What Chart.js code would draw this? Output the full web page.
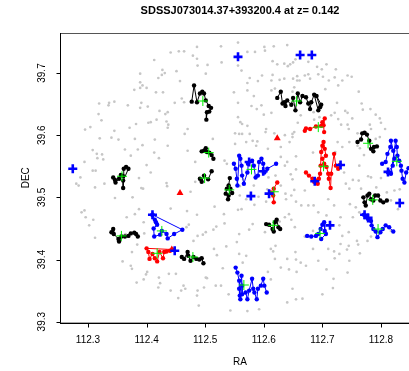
<!DOCTYPE html>
<html lang="en">
<head>
<meta charset="UTF-8">
<title>SDSSJ073014.37+393200.4</title>
<script src="https://cdn.jsdelivr.net/npm/chart.js@4.4.1/dist/chart.umd.min.js"></script>
<style>
  html, body { margin: 0; padding: 0; background: #fff; overflow: hidden; }
  #wrap { width: 430px; height: 371px; }
</style>
</head>
<body>
<div id="wrap"><canvas id="chart" width="430" height="371"></canvas></div>
<script>
const titleText = 'SDSSJ073014.37+393200.4 at z= 0.142';
const xTicks = [112.3, 112.4, 112.5, 112.6, 112.7, 112.8];
const yTicks = [39.3, 39.4, 39.5, 39.6, 39.7];

// field galaxies
const grayRa = [112.486,112.527,112.441,112.455,112.464,112.479,112.486,112.487,112.504,112.528,112.413,112.389,112.427,112.431,112.426,112.451,112.501,112.457,112.420,112.389,
  112.393,112.400,112.379,112.389,112.416,112.428,112.460,112.464,112.448,112.336,112.345,112.319,112.335,112.368,112.391,112.389,112.402,112.422,112.436,112.432,
  112.318,112.323,112.382,112.403,112.407,112.417,112.434,112.437,112.295,112.304,112.345,112.371,112.436,112.465,112.470,112.320,112.340,112.352,112.380,112.414,
  112.393,112.436,112.513,112.308,112.315,112.324,112.316,112.326,112.363,112.385,112.413,112.470,112.373,112.400,112.421,112.294,112.308,112.313,112.287,112.280,
  112.284,112.312,112.328,112.387,112.391,112.394,112.434,112.435,112.483,112.533,112.537,112.407,112.483,112.475,112.346,112.376,112.441,112.387,112.380,112.366,
  112.294,112.289,112.296,112.309,112.302,112.312,112.364,112.384,112.384,112.375,112.395,112.396,112.469,112.486,112.472,112.468,112.487,112.496,112.501,112.480,
  112.514,112.519,112.515,112.536,112.532,112.533,112.516,112.359,112.373,112.375,112.399,112.401,112.395,112.383,112.421,112.423,112.420,112.438,112.450,112.441,
  112.463,112.466,112.459,112.454,112.487,112.486,112.501,112.503,112.518,112.527,112.498,112.489,112.540,112.543,112.530,112.520,
  112.556,112.572,112.585,112.601,112.602,112.617,112.640,112.556,112.562,112.615,112.623,112.635,112.641,112.645,112.650,112.654,112.676,112.691,112.699,112.707,
  112.723,112.572,112.576,112.590,112.597,112.613,112.615,112.627,112.635,112.650,112.657,112.657,112.670,112.676,112.679,112.693,112.701,112.721,112.734,112.743,
  112.750,112.549,112.572,112.583,112.613,112.619,112.649,112.652,112.661,112.705,112.711,112.727,112.762,112.556,112.579,112.588,112.596,112.600,112.613,112.556,
  112.560,112.563,112.572,112.558,112.551,112.563,112.570,112.576,112.581,112.604,112.603,112.618,112.636,112.649,112.649,112.652,112.658,112.663,112.685,112.686,
  112.695,112.715,112.721,112.727,112.732,112.739,112.743,112.743,112.745,112.751,112.767,112.769,112.782,112.791,112.798,112.800,112.807,112.783,112.791,112.798,
  112.760,112.781,112.760,112.764,112.771,112.746,112.734,112.722,112.726,112.607,112.629,112.644,112.629,112.640,112.655,112.655,112.646,112.684,112.649,112.652,
  112.670,112.664,112.676,112.643,112.647,112.653,112.627,112.636,112.693,112.685,112.710,112.720,112.707,112.731,112.752,112.747,112.757,112.763,112.737,112.740,
  112.746,112.766,112.762,112.752,112.763,112.778,112.783,112.792,112.800,112.810,112.823,112.832,112.817,112.829,112.817,112.791,112.777,112.759,112.745,112.729,
  112.734,112.731,112.707,112.697,112.684,112.670,112.684,112.654,112.640,112.620,112.616,112.619,112.629,112.643,112.655,112.663,112.656,112.672,112.693,112.707,
  112.710,112.720,112.721,112.729,112.742,112.745,112.761,112.783,112.764,112.746,112.743,112.719,112.718,112.700,112.666,112.655,112.649,112.640,112.612,112.607,
  112.592,112.572,112.564,112.570,112.558,112.554,112.558,112.575,112.581,112.602,112.612,112.562,112.556,112.584,112.591,112.604,112.617,112.638,112.637,112.647,
  112.655,112.606,112.583,112.565,112.629,112.620,112.608,112.636,112.597,112.589,112.587,112.559,112.559,112.570,112.551,112.725];
const grayDec = [39.742,39.743,39.733,39.735,39.735,39.728,39.723,39.712,39.713,39.717,39.721,39.699,39.705,39.700,39.697,39.703,39.699,39.687,39.692,39.685,
  39.680,39.676,39.673,39.676,39.669,39.669,39.659,39.653,39.652,39.652,39.654,39.651,39.648,39.648,39.652,39.644,39.646,39.639,39.637,39.634,
  39.634,39.624,39.618,39.620,39.621,39.625,39.622,39.617,39.609,39.613,39.607,39.612,39.612,39.602,39.610,39.595,39.596,39.593,39.594,39.593,
  39.584,39.583,39.594,39.576,39.570,39.569,39.563,39.561,39.577,39.577,39.572,39.575,39.567,39.552,39.563,39.557,39.543,39.543,39.532,39.522,
  39.519,39.516,39.522,39.531,39.515,39.514,39.523,39.518,39.557,39.559,39.554,39.540,39.525,39.509,39.499,39.500,39.482,39.481,39.473,39.468,
  39.479,39.476,39.468,39.464,39.455,39.435,39.441,39.440,39.424,39.412,39.460,39.442,39.478,39.472,39.456,39.452,39.438,39.440,39.444,39.430,
  39.448,39.453,39.417,39.421,39.473,39.458,39.485,39.397,39.390,39.385,39.376,39.380,39.368,39.363,39.371,39.362,39.355,39.377,39.377,39.350,
  39.358,39.353,39.350,39.338,39.350,39.342,39.371,39.370,39.358,39.358,39.355,39.326,39.344,39.318,39.386,39.407,
  39.749,39.734,39.734,39.742,39.736,39.743,39.745,39.712,39.704,39.719,39.714,39.715,39.711,39.714,39.717,39.722,39.718,39.710,39.706,39.714,
  39.706,39.684,39.692,39.687,39.696,39.688,39.697,39.689,39.691,39.691,39.695,39.688,39.696,39.698,39.691,39.698,39.694,39.693,39.688,39.696,
  39.694,39.669,39.672,39.663,39.672,39.675,39.670,39.677,39.688,39.674,39.688,39.680,39.670,39.652,39.647,39.642,39.648,39.633,39.636,39.629,
  39.621,39.618,39.615,39.602,39.603,39.602,39.589,39.602,39.591,39.610,39.605,39.603,39.600,39.602,39.597,39.605,39.620,39.632,39.637,39.625,
  39.629,39.632,39.636,39.626,39.617,39.639,39.636,39.617,39.610,39.627,39.651,39.641,39.642,39.633,39.627,39.620,39.610,39.610,39.594,39.597,
  39.603,39.617,39.583,39.579,39.568,39.589,39.581,39.573,39.589,39.578,39.581,39.589,39.565,39.557,39.566,39.545,39.537,39.572,39.529,39.512,
  39.511,39.487,39.487,39.473,39.464,39.452,39.461,39.468,39.476,39.487,39.497,39.487,39.471,39.468,39.468,39.489,39.484,39.476,39.540,39.522,
  39.514,39.514,39.527,39.528,39.551,39.534,39.532,39.516,39.531,39.508,39.511,39.513,39.495,39.481,39.446,39.447,39.430,39.430,39.444,39.455,
  39.438,39.425,39.443,39.433,39.446,39.437,39.417,39.412,39.401,39.422,39.413,39.401,39.387,39.384,39.400,39.395,39.380,39.390,39.398,39.384,
  39.417,39.413,39.402,39.409,39.416,39.422,39.424,39.437,39.410,39.398,39.379,39.369,39.354,39.344,39.337,39.336,39.353,39.331,39.368,39.380,
  39.320,39.317,39.395,39.406,39.409,39.428,39.441,39.448,39.457,39.444,39.417,39.481,39.480,39.488,39.501,39.493,39.492,39.497,39.506,39.503,
  39.493,39.513,39.519,39.529,39.519,39.535,39.532,39.551,39.540,39.590,39.583,39.518,39.503,39.497,39.586,39.652];

// member chains of each group
const g1 = { ra: [112.477,112.481,112.486,112.491,112.495,112.498,112.501,112.506,112.510,112.507,112.503,112.502],
             dec: [39.654,39.680,39.653,39.667,39.670,39.667,39.656,39.647,39.644,39.638,39.637,39.625] };
const g2 = { ra: [112.494,112.498,112.501,112.503,112.507,112.511,112.514],
             dec: [39.574,39.575,39.579,39.573,39.572,39.568,39.562] };
const g3 = { ra: [112.491,112.494,112.498,112.505,112.511],
             dec: [39.530,39.525,39.535,39.529,39.542] };
const g4 = { ra: [112.542,112.540,112.537,112.535,112.540,112.539,112.543,112.546],
             dec: [39.531,39.519,39.514,39.506,39.503,39.497,39.514,39.507] };
const g5 = { ra: [112.343,112.346,112.347,112.353,112.356,112.360,112.361,112.365,112.369,112.360,112.360],
             dec: [39.532,39.528,39.524,39.530,39.536,39.534,39.546,39.549,39.546,39.527,39.515] };
const g6 = { ra: [112.340,112.343,112.344,112.352,112.353,112.357,112.363,112.369,112.373,112.379,112.382,112.385],
             dec: [39.444,39.449,39.441,39.433,39.429,39.437,39.437,39.438,39.442,39.443,39.441,39.437] };
const g7 = { ra: [112.410,112.414,112.416,112.418,112.412,112.413,112.423,112.426,112.434,112.436,112.447,112.461,112.410],
             dec: [39.472,39.464,39.460,39.456,39.450,39.437,39.440,39.446,39.441,39.434,39.441,39.448,39.472] };
const g8 = { ra: [112.446,112.400,112.403,112.405,112.410,112.414,112.418,112.422,112.428,112.430,112.434,112.440],
             dec: [39.416,39.418,39.412,39.401,39.409,39.402,39.397,39.412,39.402,39.412,39.413,39.414] };
const g9 = { ra: [112.460,112.464,112.470,112.471,112.475,112.480,112.485,112.490,112.494,112.497],
             dec: [39.404,39.401,39.412,39.406,39.398,39.404,39.401,39.400,39.402,39.394] };
const g10 = { ra: [112.552,112.555,112.558,112.558,112.559,112.560,112.562,112.563,112.563,112.569,112.572,112.575,112.580,112.582,112.584,112.588,112.590,112.595,112.599,112.601,112.605],
              dec: [39.387,39.379,39.366,39.353,39.342,39.336,39.374,39.358,39.344,39.347,39.336,39.350,39.369,39.353,39.347,39.336,39.353,39.358,39.369,39.358,39.347] };
const g11 = { ra: [112.623,112.629,112.632,112.635,112.637,112.640,112.647,112.650,112.654,112.658,112.662,112.666,112.672,112.676,112.679,112.681,112.686,112.693,112.696,112.690,112.698],
              dec: [39.660,39.670,39.651,39.653,39.647,39.656,39.649,39.660,39.640,39.667,39.653,39.663,39.661,39.651,39.642,39.653,39.665,39.640,39.645,39.663,39.649] };
const g12 = { ra: [112.670,112.672,112.679,112.689,112.698,112.700,112.704,112.702,112.703],
              dec: [39.607,39.611,39.610,39.614,39.615,39.621,39.627,39.616,39.605] };
const g13 = { ra: [112.760,112.766,112.768,112.772,112.776,112.780,112.783,112.787,112.788,112.793],
              dec: [39.589,39.593,39.603,39.604,39.601,39.591,39.578,39.574,39.581,39.582] };
const g14 = { ra: [112.802,112.808,112.811,112.816,112.817,112.821,112.823,112.820,112.812,112.817,112.825,112.827,112.828,112.831,112.834,112.835,112.837,112.840,112.843,112.847],
              dec: [39.554,39.557,39.570,39.581,39.591,39.575,39.562,39.551,39.540,39.538,39.591,39.581,39.567,39.559,39.551,39.543,39.530,39.524,39.540,39.547] };
const g15 = { ra: [112.672,112.677,112.683,112.686,112.690,112.692,112.694,112.696,112.697,112.698,112.700,112.702,112.704,112.706,112.700,112.703,112.707,112.710,112.711,112.714,112.715,112.720,112.723,112.727,112.730],
              dec: [39.540,39.535,39.530,39.525,39.527,39.522,39.530,39.538,39.551,39.573,39.583,39.589,39.578,39.567,39.562,39.554,39.549,39.538,39.530,39.515,39.538,39.570,39.551,39.546,39.552] };
const g16 = { ra: [112.549,112.552,112.554,112.555,112.558,112.560,112.562,112.563,112.566,112.572,112.573,112.580,112.583,112.586,112.590,112.592,112.596,112.599,112.601,112.606,112.621],
              dec: [39.554,39.546,39.530,39.519,39.567,39.562,39.551,39.535,39.522,39.540,39.554,39.559,39.551,39.532,39.535,39.557,39.562,39.554,39.540,39.546,39.554] };
const g17 = { ra: [112.612,112.616,112.617,112.617,112.623],
              dec: [39.508,39.503,39.492,39.514,39.524] };
const g18 = { ra: [112.770,112.772,112.774,112.777,112.780,112.783,112.787,112.790,112.795,112.799,112.804,112.810],
              dec: [39.500,39.492,39.487,39.503,39.506,39.497,39.495,39.503,39.503,39.495,39.492,39.495] };
const g19 = { ra: [112.771,112.776,112.778,112.783,112.784,112.787,112.791,112.794,112.799,112.803,112.808,112.814,112.821],
              dec: [39.472,39.470,39.465,39.462,39.455,39.449,39.445,39.436,39.444,39.449,39.455,39.452,39.445] };
const g20 = { ra: [112.604,112.609,112.615,112.617,112.619,112.622,112.625,112.628],
              dec: [39.457,39.456,39.449,39.445,39.460,39.464,39.452,39.449] };
const g21 = { ra: [112.674,112.681,112.689,112.693,112.697,112.700,112.703,112.704,112.706,112.698],
              dec: [39.438,39.437,39.438,39.441,39.449,39.456,39.460,39.446,39.441,39.433] };

const blackGroups = [g1, g2, g3, g4, g5, g6, g9, g11, g13, g18, g20];
const redGroups = [g8, g12, g15, g17];
const blueGroups = [g7, g10, g14, g16, g19, g21];

// group centres (green crosses)
const centreRa = [112.496,112.506,112.499,112.541,112.358,112.357,112.426,112.418,112.479,112.566,112.656,112.693,112.778,112.827,112.702,112.579,112.617,112.786,112.795,112.616,112.696];
const centreDec = [39.655,39.572,39.531,39.512,39.534,39.438,39.446,39.410,39.404,39.359,39.655,39.613,39.587,39.558,39.550,39.545,39.509,39.496,39.449,39.455,39.442];

// blue crosses
const plusRa = [112.274,112.556,112.662,112.682,112.410,112.448,112.731,112.687,112.575,112.599,112.609,112.578,112.832,112.772,112.778,112.713,112.812];
const plusDec = [39.546,39.726,39.729,39.729,39.472,39.414,39.552,39.526,39.557,39.542,39.506,39.502,39.491,39.472,39.467,39.455,39.541];

// red triangles
const triRa = [112.457, 112.623, 112.443];
const triDec = [39.507, 39.595, 39.416];

function pts(ra, dec) {
  return ra.map((v, i) => ({ x: v, y: dec[i] }));
}

function chainSet(g, colour) {
  return {
    data: pts(g.ra, g.dec),
    showLine: true,
    borderColor: colour,
    backgroundColor: colour,
    borderWidth: 1,
    pointRadius: 2.2,
    pointBorderWidth: 0,
    order: 3
  };
}

const datasets = [
  {
    data: pts(grayRa, grayDec),
    backgroundColor: '#c6c6c6',
    pointRadius: 1.35,
    pointBorderWidth: 0,
    order: 5
  },
  ...blackGroups.map(g => chainSet(g, '#000000')),
  ...redGroups.map(g => chainSet(g, '#ff0000')),
  ...blueGroups.map(g => chainSet(g, '#0000ff')),
  {
    data: pts(centreRa, centreDec),
    pointStyle: 'cross',
    pointRadius: 5,
    borderColor: '#00ee00',
    borderWidth: 1,
    order: 2
  },
  {
    data: pts(plusRa, plusDec),
    pointStyle: 'cross',
    pointRadius: 4.5,
    borderColor: '#0000ff',
    borderWidth: 2.6,
    order: 1
  },
  {
    data: pts(triRa, triDec),
    pointStyle: 'triangle',
    pointRadius: 4,
    backgroundColor: '#ff0000',
    borderColor: '#ff0000',
    borderWidth: 0,
    order: 1
  }
];

// box, axes, tick labels and titles in the base-graphics look
const frame = {
  id: 'frame',
  afterDraw(chart) {
    const { ctx, chartArea: a, scales: { x, y } } = chart;
    ctx.save();
    ctx.strokeStyle = '#555';
    ctx.lineWidth = 1;
    ctx.strokeRect(a.left + 0.5, a.top + 0.5, a.right - a.left, a.bottom - a.top);

    ctx.strokeStyle = '#000';
    ctx.beginPath();
    const yb = Math.round(a.bottom) + 0.5;
    ctx.moveTo(a.left, yb); ctx.lineTo(a.right, yb);
    xTicks.forEach(t => {
      const px = Math.round(x.getPixelForValue(t)) + 0.5;
      ctx.moveTo(px, yb); ctx.lineTo(px, yb + 4);
    });
    const xl = Math.round(a.left) + 0.5;
    ctx.moveTo(xl, a.top); ctx.lineTo(xl, a.bottom);
    yTicks.forEach(t => {
      const py = Math.round(y.getPixelForValue(t)) + 0.5;
      ctx.moveTo(xl, py); ctx.lineTo(xl - 4, py);
    });
    ctx.stroke();

    ctx.fillStyle = '#000';
    ctx.font = '10px "Liberation Sans", Arial, sans-serif';
    ctx.textAlign = 'center';
    ctx.textBaseline = 'middle';
    xTicks.forEach(t => ctx.fillText(t.toFixed(1), x.getPixelForValue(t), 340));
    yTicks.forEach(t => {
      ctx.save();
      ctx.translate(42, y.getPixelForValue(t));
      ctx.rotate(-Math.PI / 2);
      ctx.fillText(t.toFixed(1), 0, 0);
      ctx.restore();
    });

    ctx.fillText('RA', (a.left + a.right) / 2, 362);
    ctx.save();
    ctx.translate(26, (a.top + a.bottom) / 2);
    ctx.rotate(-Math.PI / 2);
    ctx.fillText('DEC', 0, 0);
    ctx.restore();

    ctx.font = 'bold 11px "Liberation Sans", Arial, sans-serif';
    ctx.fillText(titleText, (a.left + a.right) / 2, 11);
    ctx.restore();
  }
};

new Chart(document.getElementById('chart').getContext('2d'), {
  type: 'scatter',
  data: { datasets },
  options: {
    responsive: false,
    animation: false,
    layout: { padding: { left: 60, top: 33, right: 10, bottom: 48.5 } },
    plugins: { legend: { display: false }, tooltip: { enabled: false } },
    scales: {
      x: { type: 'linear', min: 112.2522, max: 112.8666, display: false },
      y: { type: 'linear', min: 39.2987, max: 39.7644, display: false }
    }
  },
  plugins: [frame]
});
</script>
</body>
</html>
